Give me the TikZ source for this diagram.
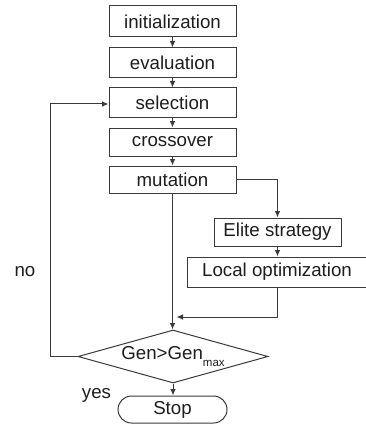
\documentclass[tikz,border=0pt]{standalone}
\usepackage{fontspec}
\setmainfont{Liberation Sans}
\usetikzlibrary{arrows.meta,shapes.geometric}
\definecolor{ln}{HTML}{3a3a3a}
\definecolor{tx}{HTML}{1e1e1e}
\begin{document}
\begin{tikzpicture}[x=1pt,y=-1pt,
  box/.style={draw=ln,line width=1pt,rectangle,inner sep=0pt,text=tx,font=\fontsize{18.7}{22}\selectfont},
  arr/.style={draw=ln,line width=1pt,-{Latex[length=6.5pt,width=5.5pt]}},
  lbl/.style={text=tx,inner sep=0pt,font=\fontsize{18.7}{22}\selectfont}]
\useasboundingbox (0,0) rectangle (365,425);
\fill[white] (0,0) rectangle (365,425);
\node[box,minimum width=127pt,minimum height=31pt] (init) at (172.5,21.5) {initialization};
\node[box,minimum width=127pt,minimum height=30pt] (eval) at (172.5,63) {evaluation};
\node[box,minimum width=127pt,minimum height=29pt] (sel) at (172.5,102.5) {selection};
\node[box,minimum width=127pt,minimum height=28pt] (cross) at (172.5,142) {crossover};
\node[box,minimum width=127pt,minimum height=27pt] (mut) at (172.5,179.5) {mutation};
\node[box,minimum width=127pt,minimum height=28pt] (elite) at (277.5,232) {Elite strategy};
\node[box,minimum width=180pt,minimum height=30pt] (loc) at (277,272) {Local optimization};
\node[box,shape=diamond,aspect=3.58,minimum width=190pt,minimum height=53pt] (dia) at (173,356.5) {Gen>Gen\raisebox{-0.35em}{\fontsize{11.5}{12}\selectfont max}};
\node[box,rounded corners=13.5pt,minimum width=109pt,minimum height=27pt] (stop) at (172.5,409.5) {Stop};
\node[lbl,anchor=base] (no) at (25,276) {no};
\node[lbl,anchor=base] (yes) at (96.5,398) {yes};
\coordinate (lpb) at (50,356.5);
\coordinate (lpt) at (50,104);
\coordinate (mj) at (172.5,317);
\draw[arr] (init) -- (eval);
\draw[arr] (eval) -- (sel);
\draw[arr] (sel) -- (cross);
\draw[arr] (cross) -- (mut);
\draw[arr] (mut.east) -| (elite.north);
\draw[arr] (elite) -- (elite.south |- loc.north);
\draw[arr,shorten >=4pt] (elite.south |- loc.south) |- (mj);
\draw[arr] (mut.south) -- (mut.south |- dia.north);
\draw[arr] (dia.west) -- (lpb) -- (lpt) -- (sel.west |- lpt);
\draw[arr] (dia.south) -- (dia.south |- stop.north);
\end{tikzpicture}
\end{document}
